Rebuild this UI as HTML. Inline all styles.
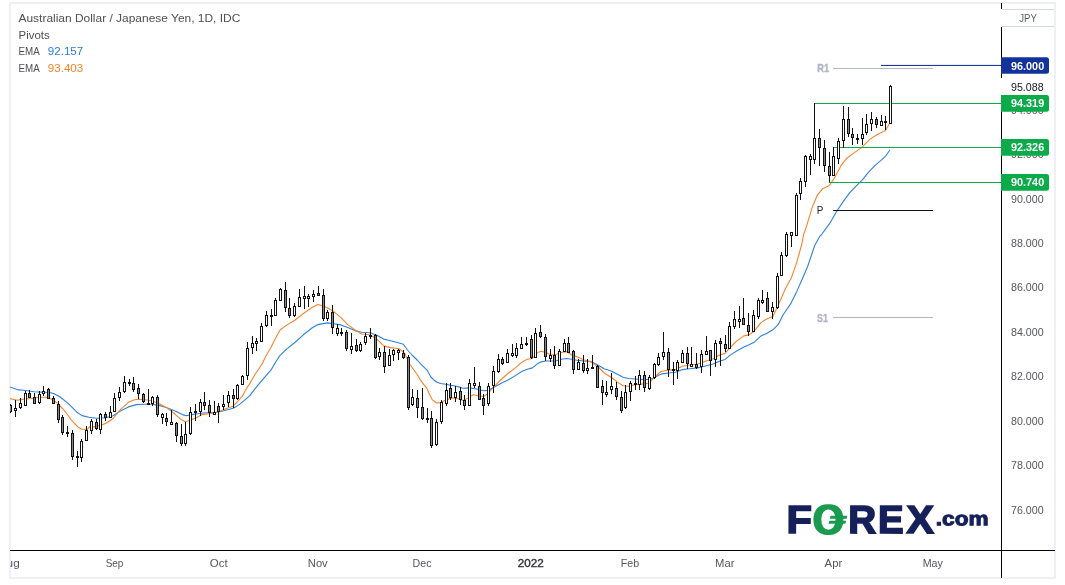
<!DOCTYPE html>
<html lang="en"><head><meta charset="utf-8"><title>AUD/JPY Daily Chart</title>
<style>
html,body{margin:0;padding:0;background:#fff;}
body{width:1065px;height:585px;overflow:hidden;font-family:"Liberation Sans", Arial, sans-serif;}
svg{display:block;position:absolute;left:0;top:0}
text{font-family:"Liberation Sans", Arial, sans-serif;}
.t{font-size:11.6px;fill:#4f4f52}
.ax{font-size:11px;fill:#55565c}
.lb{font-size:11px;font-weight:bold;fill:#fff}
</style></head><body>
<svg width="1065" height="585" viewBox="0 0 1065 585">
<rect x="10" y="3" width="1045" height="575" fill="#fff" stroke="#eef0f6" stroke-width="2"/>
<defs><clipPath id="plot"><rect x="10" y="4" width="991" height="573"/></clipPath></defs>
<g id="ema" clip-path="url(#plot)">
<polyline points="9.5,386.8 17.1,389.6 25.6,390.5 34.2,391.7 42.7,392.2 49.6,392.5 54.7,393.9 59.8,396.8 68.4,403.6 76.9,412.2 82.0,415.6 88.9,417.3 96.2,418.2 105.4,417.7 113.1,415.7 120.8,410.8 128.5,406.9 136.2,404.6 143.8,404.2 151.5,404.3 159.2,405.4 166.9,407.7 174.6,410.8 182.3,414.6 186.2,415.7 191.5,414.6 197.7,413.8 205.4,412.8 213.1,412.8 220.8,411.5 228.5,409.5 233.8,408.0 239.2,404.6 243.8,400.8 250.0,395.4 255.5,388.1 262.4,379.9 267.0,374.6 271.2,369.7 276.0,361.5 280.1,355.3 286.3,349.4 294.8,342.5 303.4,334.8 311.9,328.0 317.9,324.6 327.3,322.9 334.1,323.7 341.0,324.9 347.8,327.6 354.7,330.6 361.5,332.3 370.0,332.8 376.9,335.2 383.7,339.1 390.6,340.8 397.4,342.5 403.4,344.2 407.4,350.0 412.0,355.0 417.2,360.0 421.6,364.9 427.0,370.1 428.7,373.1 430.9,377.0 434.1,380.2 436.9,382.2 440.7,383.5 445.6,384.3 450.6,385.2 455.5,386.0 460.4,387.4 463.0,388.3 469.8,387.9 476.6,389.0 483.5,390.7 488.0,390.4 494.8,386.7 501.7,382.9 508.5,379.8 515.4,375.6 522.2,371.3 527.3,369.2 532.4,367.9 537.6,363.6 541.0,361.9 546.1,361.0 551.2,361.0 556.4,360.7 561.5,359.3 566.6,358.5 571.8,359.3 576.9,360.2 583.7,361.0 590.6,361.4 597.4,364.8 604.2,368.7 611.1,370.9 617.9,374.4 623.0,377.3 628.2,378.5 635.0,379.0 641.8,379.5 648.7,379.5 653.8,378.1 658.9,375.0 661.8,373.9 668.7,373.0 675.5,372.2 682.4,369.6 689.2,368.8 697.7,367.9 706.3,365.7 713.1,364.0 720.0,361.1 725.1,359.4 730.2,355.1 737.1,350.8 743.9,346.9 749.0,344.8 754.1,342.3 761.0,335.9 766.1,333.7 772.9,329.8 778.1,324.7 783.0,315.0 790.6,303.9 796.6,291.9 801.8,280.0 807.7,266.3 814.6,245.8 819.7,236.4 821.2,235.0 829.4,223.9 836.3,211.9 843.1,201.7 850.0,192.3 856.8,185.4 861.9,180.3 868.8,171.8 875.6,164.9 880.7,160.6 885.5,156.2 889.7,150.2" fill="none" stroke="#2f80dc" stroke-width="1.1" stroke-linejoin="round" stroke-linecap="round"/>
<polyline points="9.5,398.5 17.1,400.2 22.2,399.4 30.8,398.5 39.3,397.3 46.2,397.3 51.3,399.0 58.1,403.6 65.0,411.3 71.8,420.7 78.6,427.6 82.0,429.3 87.2,429.3 90.0,426.5 94.6,426.9 100.8,425.4 106.9,422.8 113.1,418.5 120.8,409.2 128.5,402.3 134.6,399.7 139.2,399.2 145.4,399.7 151.5,400.8 159.2,403.8 166.9,407.7 174.6,413.8 180.8,419.2 185.4,421.8 190.0,420.3 196.2,417.7 202.3,414.6 208.5,413.8 214.6,413.1 220.8,410.8 228.5,407.7 233.1,406.2 237.7,401.5 242.3,396.2 246.9,387.7 250.0,383.1 254.7,375.0 261.9,364.2 265.9,356.0 270.8,347.8 274.5,340.3 280.1,330.0 286.3,325.4 294.8,320.3 303.4,313.5 311.9,307.5 317.9,304.4 322.2,305.8 327.3,307.8 334.1,311.8 341.0,317.7 347.8,324.6 354.7,329.7 361.5,334.0 370.0,334.8 376.9,339.1 383.7,345.9 390.6,347.6 399.1,348.8 404.8,353.4 410.0,364.5 415.0,371.5 417.7,375.3 420.5,380.2 423.8,384.6 427.0,388.4 428.6,392.5 432.2,399.6 436.5,403.0 440.7,402.6 446.7,399.6 452.7,397.9 457.8,398.7 463.0,400.4 468.1,397.9 473.2,394.8 478.3,395.8 483.5,396.5 488.0,393.5 494.8,385.8 501.7,379.0 508.5,373.0 515.4,367.9 522.2,361.9 527.3,359.3 532.4,358.5 537.6,352.5 541.0,351.3 546.1,352.5 551.2,355.0 556.4,354.2 561.5,352.5 566.6,351.6 571.8,355.0 576.9,356.8 583.7,359.7 590.6,361.9 597.4,366.2 604.2,373.0 611.1,377.3 617.9,382.4 623.0,385.8 628.2,386.3 635.0,384.6 641.8,384.1 648.7,383.2 653.8,378.1 658.9,373.0 661.8,371.3 668.7,370.1 675.5,369.6 682.4,366.2 689.2,365.0 697.7,364.0 706.3,361.1 713.1,358.8 720.0,354.7 725.1,353.4 730.2,347.4 737.1,340.6 743.9,335.9 749.0,334.9 754.1,331.2 761.0,322.6 766.1,319.2 772.9,316.6 778.7,303.9 785.5,288.5 791.5,277.4 796.6,262.9 801.8,244.1 803.5,235.0 807.2,223.9 812.4,206.8 817.5,194.8 822.6,188.8 829.4,185.4 834.6,177.7 839.7,168.3 841.0,165.6 846.2,158.8 853.0,153.6 861.5,147.6 870.1,139.1 876.9,134.8 885.5,130.6 888.9,124.6" fill="none" stroke="#f5852c" stroke-width="1.1" stroke-linejoin="round" stroke-linecap="round"/>
</g>
<g id="pivots">
<rect x="833" y="68" width="100" height="1" fill="#b3b6c9"/>
<rect x="833" y="317" width="100" height="1" fill="#b3b6c9"/>
<rect x="833" y="210" width="100" height="1" fill="#111" shape-rendering="crispEdges"/>
<text x="817.3" y="72.3" textLength="11.8" lengthAdjust="spacingAndGlyphs" style="font-size:11px;font-weight:bold;fill:#b1b5c7;stroke:#b1b5c7;stroke-width:0.35px">R1</text>
<text x="817" y="321.8" textLength="10.9" lengthAdjust="spacingAndGlyphs" style="font-size:11px;font-weight:bold;fill:#b1b5c7;stroke:#b1b5c7;stroke-width:0.35px">S1</text>
<text x="816.8" y="214" textLength="6.6" lengthAdjust="spacingAndGlyphs" style="font-size:11px;fill:#222">P</text>
</g>
<g id="levels">
<rect x="881" y="64.9" width="120" height="1.1" fill="#1c3aa0"/>
<rect x="814" y="103" width="187" height="1" fill="#12a843"/>
<rect x="833" y="147" width="168" height="1" fill="#12a843"/>
<rect x="829" y="182" width="172" height="1" fill="#12a843"/>
</g>
<g id="candles" shape-rendering="crispEdges" clip-path="url(#plot)">
<rect x="10" y="404" width="1" height="9" fill="#111"/>
<rect x="9" y="405" width="3" height="7" fill="#111"/>
<rect x="10" y="406" width="1" height="5" fill="#858893"/>
<rect x="15" y="400" width="1" height="17" fill="#111"/>
<rect x="14" y="408" width="3" height="3" fill="#111"/>
<rect x="15" y="409" width="1" height="1" fill="#fff"/>
<rect x="20" y="398" width="1" height="11" fill="#111"/>
<rect x="19" y="403" width="3" height="5" fill="#111"/>
<rect x="20" y="404" width="1" height="3" fill="#fff"/>
<rect x="25" y="391" width="1" height="15" fill="#111"/>
<rect x="24" y="393" width="3" height="13" fill="#111"/>
<rect x="25" y="394" width="1" height="11" fill="#fff"/>
<rect x="29" y="390" width="1" height="8" fill="#111"/>
<rect x="28" y="393" width="3" height="5" fill="#111"/>
<rect x="29" y="394" width="1" height="3" fill="#858893"/>
<rect x="34" y="393" width="1" height="11" fill="#111"/>
<rect x="33" y="397" width="3" height="7" fill="#111"/>
<rect x="34" y="398" width="1" height="5" fill="#858893"/>
<rect x="39" y="391" width="1" height="13" fill="#111"/>
<rect x="38" y="394" width="3" height="9" fill="#111"/>
<rect x="39" y="395" width="1" height="7" fill="#fff"/>
<rect x="43" y="386" width="1" height="10" fill="#111"/>
<rect x="42" y="391" width="3" height="3" fill="#111"/>
<rect x="43" y="392" width="1" height="1" fill="#fff"/>
<rect x="48" y="388" width="1" height="11" fill="#111"/>
<rect x="47" y="389" width="3" height="10" fill="#111"/>
<rect x="48" y="390" width="1" height="8" fill="#858893"/>
<rect x="53" y="396" width="1" height="8" fill="#111"/>
<rect x="52" y="398" width="3" height="6" fill="#111"/>
<rect x="53" y="399" width="1" height="4" fill="#858893"/>
<rect x="58" y="401" width="1" height="22" fill="#111"/>
<rect x="57" y="404" width="3" height="16" fill="#111"/>
<rect x="58" y="405" width="1" height="14" fill="#858893"/>
<rect x="62" y="415" width="1" height="20" fill="#111"/>
<rect x="61" y="417" width="3" height="16" fill="#111"/>
<rect x="62" y="418" width="1" height="14" fill="#858893"/>
<rect x="67" y="426" width="1" height="11" fill="#111"/>
<rect x="66" y="432" width="3" height="2" fill="#111"/>
<rect x="72" y="430" width="1" height="30" fill="#111"/>
<rect x="71" y="433" width="3" height="24" fill="#111"/>
<rect x="72" y="434" width="1" height="22" fill="#858893"/>
<rect x="77" y="451" width="1" height="16" fill="#111"/>
<rect x="76" y="456" width="3" height="2" fill="#111"/>
<rect x="81" y="439" width="1" height="23" fill="#111"/>
<rect x="80" y="441" width="3" height="17" fill="#111"/>
<rect x="81" y="442" width="1" height="15" fill="#fff"/>
<rect x="86" y="426" width="1" height="15" fill="#111"/>
<rect x="85" y="430" width="3" height="11" fill="#111"/>
<rect x="86" y="431" width="1" height="9" fill="#fff"/>
<rect x="91" y="419" width="1" height="15" fill="#111"/>
<rect x="90" y="421" width="3" height="10" fill="#111"/>
<rect x="91" y="422" width="1" height="8" fill="#fff"/>
<rect x="96" y="419" width="1" height="11" fill="#111"/>
<rect x="95" y="422" width="3" height="7" fill="#111"/>
<rect x="96" y="423" width="1" height="5" fill="#858893"/>
<rect x="100" y="413" width="1" height="21" fill="#111"/>
<rect x="99" y="414" width="3" height="16" fill="#111"/>
<rect x="100" y="415" width="1" height="14" fill="#fff"/>
<rect x="105" y="412" width="1" height="9" fill="#111"/>
<rect x="104" y="414" width="3" height="4" fill="#111"/>
<rect x="105" y="415" width="1" height="2" fill="#858893"/>
<rect x="110" y="406" width="1" height="12" fill="#111"/>
<rect x="109" y="412" width="3" height="6" fill="#111"/>
<rect x="110" y="413" width="1" height="4" fill="#fff"/>
<rect x="114" y="393" width="1" height="19" fill="#111"/>
<rect x="113" y="398" width="3" height="14" fill="#111"/>
<rect x="114" y="399" width="1" height="12" fill="#fff"/>
<rect x="119" y="387" width="1" height="14" fill="#111"/>
<rect x="118" y="392" width="3" height="6" fill="#111"/>
<rect x="119" y="393" width="1" height="4" fill="#fff"/>
<rect x="124" y="376" width="1" height="17" fill="#111"/>
<rect x="123" y="382" width="3" height="10" fill="#111"/>
<rect x="124" y="383" width="1" height="8" fill="#fff"/>
<rect x="129" y="379" width="1" height="7" fill="#111"/>
<rect x="128" y="382" width="3" height="2" fill="#111"/>
<rect x="133" y="377" width="1" height="15" fill="#111"/>
<rect x="132" y="383" width="3" height="7" fill="#111"/>
<rect x="133" y="384" width="1" height="5" fill="#858893"/>
<rect x="138" y="384" width="1" height="15" fill="#111"/>
<rect x="137" y="388" width="3" height="6" fill="#111"/>
<rect x="138" y="389" width="1" height="4" fill="#858893"/>
<rect x="143" y="393" width="1" height="10" fill="#111"/>
<rect x="142" y="394" width="3" height="8" fill="#111"/>
<rect x="143" y="395" width="1" height="6" fill="#858893"/>
<rect x="148" y="389" width="1" height="16" fill="#111"/>
<rect x="147" y="403" width="3" height="2" fill="#111"/>
<rect x="152" y="396" width="1" height="10" fill="#111"/>
<rect x="151" y="397" width="3" height="7" fill="#111"/>
<rect x="152" y="398" width="1" height="5" fill="#fff"/>
<rect x="157" y="395" width="1" height="22" fill="#111"/>
<rect x="156" y="397" width="3" height="18" fill="#111"/>
<rect x="157" y="398" width="1" height="16" fill="#858893"/>
<rect x="162" y="413" width="1" height="11" fill="#111"/>
<rect x="161" y="414" width="3" height="4" fill="#111"/>
<rect x="162" y="415" width="1" height="2" fill="#fff"/>
<rect x="166" y="413" width="1" height="13" fill="#111"/>
<rect x="165" y="418" width="3" height="4" fill="#111"/>
<rect x="166" y="419" width="1" height="2" fill="#858893"/>
<rect x="171" y="410" width="1" height="15" fill="#111"/>
<rect x="170" y="422" width="3" height="3" fill="#111"/>
<rect x="171" y="423" width="1" height="1" fill="#fff"/>
<rect x="176" y="422" width="1" height="20" fill="#111"/>
<rect x="175" y="423" width="3" height="13" fill="#111"/>
<rect x="176" y="424" width="1" height="11" fill="#858893"/>
<rect x="181" y="424" width="1" height="22" fill="#111"/>
<rect x="180" y="436" width="3" height="8" fill="#111"/>
<rect x="181" y="437" width="1" height="6" fill="#858893"/>
<rect x="185" y="422" width="1" height="24" fill="#111"/>
<rect x="184" y="434" width="3" height="10" fill="#111"/>
<rect x="185" y="435" width="1" height="8" fill="#fff"/>
<rect x="190" y="407" width="1" height="28" fill="#111"/>
<rect x="189" y="412" width="3" height="22" fill="#111"/>
<rect x="190" y="413" width="1" height="20" fill="#fff"/>
<rect x="195" y="404" width="1" height="17" fill="#111"/>
<rect x="194" y="411" width="3" height="2" fill="#111"/>
<rect x="200" y="399" width="1" height="17" fill="#111"/>
<rect x="199" y="402" width="3" height="10" fill="#111"/>
<rect x="200" y="403" width="1" height="8" fill="#fff"/>
<rect x="204" y="392" width="1" height="18" fill="#111"/>
<rect x="203" y="402" width="3" height="4" fill="#111"/>
<rect x="204" y="403" width="1" height="2" fill="#858893"/>
<rect x="209" y="400" width="1" height="17" fill="#111"/>
<rect x="208" y="405" width="3" height="8" fill="#111"/>
<rect x="209" y="406" width="1" height="6" fill="#858893"/>
<rect x="214" y="401" width="1" height="14" fill="#111"/>
<rect x="213" y="412" width="3" height="3" fill="#111"/>
<rect x="214" y="413" width="1" height="1" fill="#fff"/>
<rect x="218" y="403" width="1" height="20" fill="#111"/>
<rect x="217" y="406" width="3" height="6" fill="#111"/>
<rect x="218" y="407" width="1" height="4" fill="#858893"/>
<rect x="223" y="395" width="1" height="15" fill="#111"/>
<rect x="222" y="404" width="3" height="3" fill="#111"/>
<rect x="223" y="405" width="1" height="1" fill="#fff"/>
<rect x="228" y="391" width="1" height="16" fill="#111"/>
<rect x="227" y="395" width="3" height="8" fill="#111"/>
<rect x="228" y="396" width="1" height="6" fill="#fff"/>
<rect x="233" y="389" width="1" height="19" fill="#111"/>
<rect x="232" y="395" width="3" height="4" fill="#111"/>
<rect x="233" y="396" width="1" height="2" fill="#858893"/>
<rect x="237" y="384" width="1" height="16" fill="#111"/>
<rect x="236" y="385" width="3" height="14" fill="#111"/>
<rect x="237" y="386" width="1" height="12" fill="#fff"/>
<rect x="242" y="375" width="1" height="10" fill="#111"/>
<rect x="241" y="376" width="3" height="9" fill="#111"/>
<rect x="242" y="377" width="1" height="7" fill="#fff"/>
<rect x="247" y="342" width="1" height="38" fill="#111"/>
<rect x="246" y="348" width="3" height="28" fill="#111"/>
<rect x="247" y="349" width="1" height="26" fill="#fff"/>
<rect x="252" y="336" width="1" height="18" fill="#111"/>
<rect x="251" y="343" width="3" height="5" fill="#111"/>
<rect x="252" y="344" width="1" height="3" fill="#fff"/>
<rect x="256" y="338" width="1" height="13" fill="#111"/>
<rect x="255" y="341" width="3" height="3" fill="#111"/>
<rect x="256" y="342" width="1" height="1" fill="#fff"/>
<rect x="261" y="323" width="1" height="19" fill="#111"/>
<rect x="260" y="326" width="3" height="16" fill="#111"/>
<rect x="261" y="327" width="1" height="14" fill="#fff"/>
<rect x="266" y="311" width="1" height="16" fill="#111"/>
<rect x="265" y="315" width="3" height="11" fill="#111"/>
<rect x="266" y="316" width="1" height="9" fill="#fff"/>
<rect x="271" y="309" width="1" height="17" fill="#111"/>
<rect x="270" y="315" width="3" height="2" fill="#111"/>
<rect x="275" y="298" width="1" height="18" fill="#111"/>
<rect x="274" y="300" width="3" height="16" fill="#111"/>
<rect x="275" y="301" width="1" height="14" fill="#fff"/>
<rect x="280" y="288" width="1" height="13" fill="#111"/>
<rect x="279" y="289" width="3" height="12" fill="#111"/>
<rect x="280" y="290" width="1" height="10" fill="#fff"/>
<rect x="285" y="282" width="1" height="30" fill="#111"/>
<rect x="284" y="290" width="3" height="18" fill="#111"/>
<rect x="285" y="291" width="1" height="16" fill="#858893"/>
<rect x="289" y="298" width="1" height="20" fill="#111"/>
<rect x="288" y="308" width="3" height="8" fill="#111"/>
<rect x="289" y="309" width="1" height="6" fill="#858893"/>
<rect x="294" y="303" width="1" height="14" fill="#111"/>
<rect x="293" y="306" width="3" height="10" fill="#111"/>
<rect x="294" y="307" width="1" height="8" fill="#fff"/>
<rect x="299" y="289" width="1" height="18" fill="#111"/>
<rect x="298" y="297" width="3" height="10" fill="#111"/>
<rect x="299" y="298" width="1" height="8" fill="#fff"/>
<rect x="304" y="286" width="1" height="23" fill="#111"/>
<rect x="303" y="296" width="3" height="3" fill="#111"/>
<rect x="304" y="297" width="1" height="1" fill="#fff"/>
<rect x="308" y="294" width="1" height="13" fill="#111"/>
<rect x="307" y="296" width="3" height="3" fill="#111"/>
<rect x="308" y="297" width="1" height="1" fill="#fff"/>
<rect x="313" y="290" width="1" height="12" fill="#111"/>
<rect x="312" y="294" width="3" height="3" fill="#111"/>
<rect x="313" y="295" width="1" height="1" fill="#fff"/>
<rect x="318" y="286" width="1" height="10" fill="#111"/>
<rect x="317" y="293" width="3" height="3" fill="#111"/>
<rect x="318" y="294" width="1" height="1" fill="#858893"/>
<rect x="323" y="289" width="1" height="32" fill="#111"/>
<rect x="322" y="295" width="3" height="24" fill="#111"/>
<rect x="323" y="296" width="1" height="22" fill="#858893"/>
<rect x="327" y="310" width="1" height="11" fill="#111"/>
<rect x="326" y="312" width="3" height="7" fill="#111"/>
<rect x="327" y="313" width="1" height="5" fill="#fff"/>
<rect x="332" y="305" width="1" height="29" fill="#111"/>
<rect x="331" y="312" width="3" height="16" fill="#111"/>
<rect x="332" y="313" width="1" height="14" fill="#858893"/>
<rect x="337" y="324" width="1" height="12" fill="#111"/>
<rect x="336" y="328" width="3" height="6" fill="#111"/>
<rect x="337" y="329" width="1" height="4" fill="#fff"/>
<rect x="341" y="328" width="1" height="8" fill="#111"/>
<rect x="340" y="332" width="3" height="2" fill="#111"/>
<rect x="346" y="330" width="1" height="21" fill="#111"/>
<rect x="345" y="332" width="3" height="17" fill="#111"/>
<rect x="346" y="333" width="1" height="15" fill="#858893"/>
<rect x="351" y="333" width="1" height="21" fill="#111"/>
<rect x="350" y="346" width="3" height="4" fill="#111"/>
<rect x="351" y="347" width="1" height="2" fill="#fff"/>
<rect x="356" y="339" width="1" height="13" fill="#111"/>
<rect x="355" y="345" width="3" height="6" fill="#111"/>
<rect x="356" y="346" width="1" height="4" fill="#858893"/>
<rect x="360" y="342" width="1" height="10" fill="#111"/>
<rect x="359" y="344" width="3" height="7" fill="#111"/>
<rect x="360" y="345" width="1" height="5" fill="#fff"/>
<rect x="365" y="333" width="1" height="12" fill="#111"/>
<rect x="364" y="336" width="3" height="7" fill="#111"/>
<rect x="365" y="337" width="1" height="5" fill="#fff"/>
<rect x="370" y="328" width="1" height="11" fill="#111"/>
<rect x="369" y="335" width="3" height="2" fill="#111"/>
<rect x="375" y="334" width="1" height="25" fill="#111"/>
<rect x="374" y="335" width="3" height="23" fill="#111"/>
<rect x="375" y="336" width="1" height="21" fill="#858893"/>
<rect x="379" y="348" width="1" height="12" fill="#111"/>
<rect x="378" y="352" width="3" height="5" fill="#111"/>
<rect x="379" y="353" width="1" height="3" fill="#fff"/>
<rect x="384" y="346" width="1" height="27" fill="#111"/>
<rect x="383" y="352" width="3" height="15" fill="#111"/>
<rect x="384" y="353" width="1" height="13" fill="#858893"/>
<rect x="389" y="349" width="1" height="17" fill="#111"/>
<rect x="388" y="355" width="3" height="11" fill="#111"/>
<rect x="389" y="356" width="1" height="9" fill="#fff"/>
<rect x="393" y="349" width="1" height="12" fill="#111"/>
<rect x="392" y="350" width="3" height="5" fill="#111"/>
<rect x="393" y="351" width="1" height="3" fill="#fff"/>
<rect x="398" y="349" width="1" height="11" fill="#111"/>
<rect x="397" y="350" width="3" height="3" fill="#111"/>
<rect x="398" y="351" width="1" height="1" fill="#fff"/>
<rect x="403" y="350" width="1" height="9" fill="#111"/>
<rect x="402" y="353" width="3" height="5" fill="#111"/>
<rect x="403" y="354" width="1" height="3" fill="#858893"/>
<rect x="408" y="355" width="1" height="55" fill="#111"/>
<rect x="407" y="357" width="3" height="51" fill="#111"/>
<rect x="408" y="358" width="1" height="49" fill="#858893"/>
<rect x="412" y="389" width="1" height="17" fill="#111"/>
<rect x="411" y="397" width="3" height="8" fill="#111"/>
<rect x="412" y="398" width="1" height="6" fill="#fff"/>
<rect x="417" y="390" width="1" height="28" fill="#111"/>
<rect x="416" y="398" width="3" height="10" fill="#111"/>
<rect x="417" y="399" width="1" height="8" fill="#858893"/>
<rect x="422" y="388" width="1" height="32" fill="#111"/>
<rect x="421" y="407" width="3" height="12" fill="#111"/>
<rect x="422" y="408" width="1" height="10" fill="#858893"/>
<rect x="427" y="408" width="1" height="15" fill="#111"/>
<rect x="426" y="418" width="3" height="2" fill="#111"/>
<rect x="431" y="411" width="1" height="37" fill="#111"/>
<rect x="430" y="418" width="3" height="28" fill="#111"/>
<rect x="431" y="419" width="1" height="26" fill="#858893"/>
<rect x="436" y="419" width="1" height="27" fill="#111"/>
<rect x="435" y="422" width="3" height="23" fill="#111"/>
<rect x="436" y="423" width="1" height="21" fill="#fff"/>
<rect x="441" y="400" width="1" height="24" fill="#111"/>
<rect x="440" y="402" width="3" height="20" fill="#111"/>
<rect x="441" y="403" width="1" height="18" fill="#fff"/>
<rect x="446" y="383" width="1" height="23" fill="#111"/>
<rect x="445" y="390" width="3" height="14" fill="#111"/>
<rect x="446" y="391" width="1" height="12" fill="#fff"/>
<rect x="450" y="383" width="1" height="17" fill="#111"/>
<rect x="449" y="388" width="3" height="10" fill="#111"/>
<rect x="450" y="389" width="1" height="8" fill="#858893"/>
<rect x="455" y="386" width="1" height="16" fill="#111"/>
<rect x="454" y="392" width="3" height="6" fill="#111"/>
<rect x="455" y="393" width="1" height="4" fill="#fff"/>
<rect x="460" y="387" width="1" height="18" fill="#111"/>
<rect x="459" y="391" width="3" height="9" fill="#111"/>
<rect x="460" y="392" width="1" height="7" fill="#858893"/>
<rect x="464" y="395" width="1" height="15" fill="#111"/>
<rect x="463" y="400" width="3" height="6" fill="#111"/>
<rect x="464" y="401" width="1" height="4" fill="#858893"/>
<rect x="469" y="379" width="1" height="27" fill="#111"/>
<rect x="468" y="383" width="3" height="23" fill="#111"/>
<rect x="469" y="384" width="1" height="21" fill="#fff"/>
<rect x="474" y="367" width="1" height="21" fill="#111"/>
<rect x="473" y="383" width="3" height="3" fill="#111"/>
<rect x="474" y="384" width="1" height="1" fill="#fff"/>
<rect x="479" y="382" width="1" height="18" fill="#111"/>
<rect x="478" y="386" width="3" height="14" fill="#111"/>
<rect x="479" y="387" width="1" height="12" fill="#858893"/>
<rect x="483" y="394" width="1" height="21" fill="#111"/>
<rect x="482" y="398" width="3" height="8" fill="#111"/>
<rect x="483" y="399" width="1" height="6" fill="#858893"/>
<rect x="488" y="383" width="1" height="23" fill="#111"/>
<rect x="487" y="386" width="3" height="18" fill="#111"/>
<rect x="488" y="387" width="1" height="16" fill="#fff"/>
<rect x="493" y="366" width="1" height="27" fill="#111"/>
<rect x="492" y="371" width="3" height="15" fill="#111"/>
<rect x="493" y="372" width="1" height="13" fill="#fff"/>
<rect x="498" y="354" width="1" height="19" fill="#111"/>
<rect x="497" y="359" width="3" height="13" fill="#111"/>
<rect x="498" y="360" width="1" height="11" fill="#fff"/>
<rect x="502" y="357" width="1" height="8" fill="#111"/>
<rect x="501" y="359" width="3" height="5" fill="#111"/>
<rect x="502" y="360" width="1" height="3" fill="#858893"/>
<rect x="507" y="349" width="1" height="14" fill="#111"/>
<rect x="506" y="353" width="3" height="10" fill="#111"/>
<rect x="507" y="354" width="1" height="8" fill="#fff"/>
<rect x="512" y="344" width="1" height="13" fill="#111"/>
<rect x="511" y="353" width="3" height="3" fill="#111"/>
<rect x="512" y="354" width="1" height="1" fill="#fff"/>
<rect x="516" y="343" width="1" height="15" fill="#111"/>
<rect x="515" y="348" width="3" height="8" fill="#111"/>
<rect x="516" y="349" width="1" height="6" fill="#fff"/>
<rect x="521" y="337" width="1" height="12" fill="#111"/>
<rect x="520" y="344" width="3" height="5" fill="#111"/>
<rect x="521" y="345" width="1" height="3" fill="#fff"/>
<rect x="526" y="337" width="1" height="9" fill="#111"/>
<rect x="525" y="343" width="3" height="2" fill="#111"/>
<rect x="531" y="335" width="1" height="24" fill="#111"/>
<rect x="530" y="339" width="3" height="19" fill="#111"/>
<rect x="531" y="340" width="1" height="17" fill="#858893"/>
<rect x="535" y="328" width="1" height="30" fill="#111"/>
<rect x="534" y="333" width="3" height="25" fill="#111"/>
<rect x="535" y="334" width="1" height="23" fill="#fff"/>
<rect x="540" y="325" width="1" height="13" fill="#111"/>
<rect x="539" y="332" width="3" height="5" fill="#111"/>
<rect x="540" y="333" width="1" height="3" fill="#858893"/>
<rect x="545" y="334" width="1" height="27" fill="#111"/>
<rect x="544" y="337" width="3" height="20" fill="#111"/>
<rect x="545" y="338" width="1" height="18" fill="#858893"/>
<rect x="550" y="349" width="1" height="13" fill="#111"/>
<rect x="549" y="355" width="3" height="4" fill="#111"/>
<rect x="550" y="356" width="1" height="2" fill="#fff"/>
<rect x="554" y="346" width="1" height="23" fill="#111"/>
<rect x="553" y="355" width="3" height="11" fill="#111"/>
<rect x="554" y="356" width="1" height="9" fill="#858893"/>
<rect x="559" y="349" width="1" height="17" fill="#111"/>
<rect x="558" y="351" width="3" height="15" fill="#111"/>
<rect x="559" y="352" width="1" height="13" fill="#fff"/>
<rect x="564" y="339" width="1" height="13" fill="#111"/>
<rect x="563" y="343" width="3" height="9" fill="#111"/>
<rect x="564" y="344" width="1" height="7" fill="#fff"/>
<rect x="568" y="337" width="1" height="16" fill="#111"/>
<rect x="567" y="343" width="3" height="10" fill="#111"/>
<rect x="568" y="344" width="1" height="8" fill="#858893"/>
<rect x="573" y="350" width="1" height="24" fill="#111"/>
<rect x="572" y="351" width="3" height="19" fill="#111"/>
<rect x="573" y="352" width="1" height="17" fill="#858893"/>
<rect x="578" y="359" width="1" height="11" fill="#111"/>
<rect x="577" y="362" width="3" height="8" fill="#111"/>
<rect x="578" y="363" width="1" height="6" fill="#fff"/>
<rect x="583" y="355" width="1" height="18" fill="#111"/>
<rect x="582" y="363" width="3" height="8" fill="#111"/>
<rect x="583" y="364" width="1" height="6" fill="#858893"/>
<rect x="587" y="359" width="1" height="15" fill="#111"/>
<rect x="586" y="368" width="3" height="3" fill="#111"/>
<rect x="587" y="369" width="1" height="1" fill="#fff"/>
<rect x="592" y="355" width="1" height="14" fill="#111"/>
<rect x="591" y="367" width="3" height="2" fill="#111"/>
<rect x="597" y="365" width="1" height="23" fill="#111"/>
<rect x="596" y="366" width="3" height="22" fill="#111"/>
<rect x="597" y="367" width="1" height="20" fill="#858893"/>
<rect x="602" y="380" width="1" height="25" fill="#111"/>
<rect x="601" y="386" width="3" height="7" fill="#111"/>
<rect x="602" y="387" width="1" height="5" fill="#858893"/>
<rect x="606" y="381" width="1" height="16" fill="#111"/>
<rect x="605" y="392" width="3" height="3" fill="#111"/>
<rect x="606" y="393" width="1" height="1" fill="#fff"/>
<rect x="611" y="373" width="1" height="21" fill="#111"/>
<rect x="610" y="386" width="3" height="4" fill="#111"/>
<rect x="611" y="387" width="1" height="2" fill="#fff"/>
<rect x="616" y="382" width="1" height="18" fill="#111"/>
<rect x="615" y="388" width="3" height="9" fill="#111"/>
<rect x="616" y="389" width="1" height="7" fill="#858893"/>
<rect x="621" y="391" width="1" height="22" fill="#111"/>
<rect x="620" y="397" width="3" height="14" fill="#111"/>
<rect x="621" y="398" width="1" height="12" fill="#858893"/>
<rect x="625" y="385" width="1" height="24" fill="#111"/>
<rect x="624" y="392" width="3" height="16" fill="#111"/>
<rect x="625" y="393" width="1" height="14" fill="#fff"/>
<rect x="630" y="381" width="1" height="20" fill="#111"/>
<rect x="629" y="383" width="3" height="9" fill="#111"/>
<rect x="630" y="384" width="1" height="7" fill="#fff"/>
<rect x="635" y="376" width="1" height="14" fill="#111"/>
<rect x="634" y="383" width="3" height="2" fill="#111"/>
<rect x="639" y="370" width="1" height="20" fill="#111"/>
<rect x="638" y="375" width="3" height="10" fill="#111"/>
<rect x="639" y="376" width="1" height="8" fill="#fff"/>
<rect x="644" y="371" width="1" height="21" fill="#111"/>
<rect x="643" y="375" width="3" height="13" fill="#111"/>
<rect x="644" y="376" width="1" height="11" fill="#858893"/>
<rect x="649" y="375" width="1" height="15" fill="#111"/>
<rect x="648" y="377" width="3" height="12" fill="#111"/>
<rect x="649" y="378" width="1" height="10" fill="#fff"/>
<rect x="654" y="363" width="1" height="16" fill="#111"/>
<rect x="653" y="364" width="3" height="14" fill="#111"/>
<rect x="654" y="365" width="1" height="12" fill="#fff"/>
<rect x="658" y="353" width="1" height="13" fill="#111"/>
<rect x="657" y="357" width="3" height="8" fill="#111"/>
<rect x="658" y="358" width="1" height="6" fill="#fff"/>
<rect x="663" y="332" width="1" height="28" fill="#111"/>
<rect x="662" y="352" width="3" height="5" fill="#111"/>
<rect x="663" y="353" width="1" height="3" fill="#fff"/>
<rect x="668" y="348" width="1" height="29" fill="#111"/>
<rect x="667" y="352" width="3" height="18" fill="#111"/>
<rect x="668" y="353" width="1" height="16" fill="#858893"/>
<rect x="673" y="362" width="1" height="23" fill="#111"/>
<rect x="672" y="369" width="3" height="2" fill="#111"/>
<rect x="677" y="360" width="1" height="19" fill="#111"/>
<rect x="676" y="362" width="3" height="9" fill="#111"/>
<rect x="677" y="363" width="1" height="7" fill="#fff"/>
<rect x="682" y="350" width="1" height="13" fill="#111"/>
<rect x="681" y="353" width="3" height="10" fill="#111"/>
<rect x="682" y="354" width="1" height="8" fill="#fff"/>
<rect x="687" y="347" width="1" height="22" fill="#111"/>
<rect x="686" y="353" width="3" height="11" fill="#111"/>
<rect x="687" y="354" width="1" height="9" fill="#858893"/>
<rect x="691" y="347" width="1" height="20" fill="#111"/>
<rect x="690" y="364" width="3" height="3" fill="#111"/>
<rect x="691" y="365" width="1" height="1" fill="#fff"/>
<rect x="696" y="353" width="1" height="16" fill="#111"/>
<rect x="695" y="364" width="3" height="4" fill="#111"/>
<rect x="696" y="365" width="1" height="2" fill="#858893"/>
<rect x="701" y="350" width="1" height="23" fill="#111"/>
<rect x="700" y="354" width="3" height="13" fill="#111"/>
<rect x="701" y="355" width="1" height="11" fill="#fff"/>
<rect x="706" y="336" width="1" height="19" fill="#111"/>
<rect x="705" y="351" width="3" height="4" fill="#111"/>
<rect x="706" y="352" width="1" height="2" fill="#fff"/>
<rect x="710" y="350" width="1" height="26" fill="#111"/>
<rect x="709" y="350" width="3" height="11" fill="#111"/>
<rect x="710" y="351" width="1" height="9" fill="#858893"/>
<rect x="715" y="340" width="1" height="27" fill="#111"/>
<rect x="714" y="343" width="3" height="17" fill="#111"/>
<rect x="715" y="344" width="1" height="15" fill="#fff"/>
<rect x="720" y="338" width="1" height="28" fill="#111"/>
<rect x="719" y="341" width="3" height="3" fill="#111"/>
<rect x="720" y="342" width="1" height="1" fill="#858893"/>
<rect x="725" y="335" width="1" height="17" fill="#111"/>
<rect x="724" y="344" width="3" height="5" fill="#111"/>
<rect x="725" y="345" width="1" height="3" fill="#858893"/>
<rect x="729" y="322" width="1" height="27" fill="#111"/>
<rect x="728" y="326" width="3" height="23" fill="#111"/>
<rect x="729" y="327" width="1" height="21" fill="#fff"/>
<rect x="734" y="311" width="1" height="18" fill="#111"/>
<rect x="733" y="319" width="3" height="8" fill="#111"/>
<rect x="734" y="320" width="1" height="6" fill="#fff"/>
<rect x="739" y="306" width="1" height="22" fill="#111"/>
<rect x="738" y="319" width="3" height="3" fill="#111"/>
<rect x="739" y="320" width="1" height="1" fill="#fff"/>
<rect x="743" y="298" width="1" height="27" fill="#111"/>
<rect x="742" y="318" width="3" height="7" fill="#111"/>
<rect x="743" y="319" width="1" height="5" fill="#858893"/>
<rect x="748" y="313" width="1" height="23" fill="#111"/>
<rect x="747" y="325" width="3" height="7" fill="#111"/>
<rect x="748" y="326" width="1" height="5" fill="#858893"/>
<rect x="753" y="310" width="1" height="22" fill="#111"/>
<rect x="752" y="315" width="3" height="17" fill="#111"/>
<rect x="753" y="316" width="1" height="15" fill="#fff"/>
<rect x="758" y="298" width="1" height="21" fill="#111"/>
<rect x="757" y="300" width="3" height="17" fill="#111"/>
<rect x="758" y="301" width="1" height="15" fill="#fff"/>
<rect x="762" y="290" width="1" height="14" fill="#111"/>
<rect x="761" y="300" width="3" height="3" fill="#111"/>
<rect x="762" y="301" width="1" height="1" fill="#fff"/>
<rect x="767" y="292" width="1" height="20" fill="#111"/>
<rect x="766" y="298" width="3" height="14" fill="#111"/>
<rect x="767" y="299" width="1" height="12" fill="#858893"/>
<rect x="772" y="302" width="1" height="17" fill="#111"/>
<rect x="771" y="307" width="3" height="5" fill="#111"/>
<rect x="772" y="308" width="1" height="3" fill="#fff"/>
<rect x="777" y="273" width="1" height="36" fill="#111"/>
<rect x="776" y="276" width="3" height="32" fill="#111"/>
<rect x="777" y="277" width="1" height="30" fill="#fff"/>
<rect x="781" y="252" width="1" height="24" fill="#111"/>
<rect x="780" y="255" width="3" height="21" fill="#111"/>
<rect x="781" y="256" width="1" height="19" fill="#fff"/>
<rect x="786" y="232" width="1" height="25" fill="#111"/>
<rect x="785" y="234" width="3" height="22" fill="#111"/>
<rect x="786" y="235" width="1" height="20" fill="#fff"/>
<rect x="791" y="232" width="1" height="15" fill="#111"/>
<rect x="790" y="232" width="3" height="4" fill="#111"/>
<rect x="791" y="233" width="1" height="2" fill="#fff"/>
<rect x="796" y="193" width="1" height="43" fill="#111"/>
<rect x="795" y="195" width="3" height="41" fill="#111"/>
<rect x="796" y="196" width="1" height="39" fill="#fff"/>
<rect x="800" y="178" width="1" height="22" fill="#111"/>
<rect x="799" y="181" width="3" height="13" fill="#111"/>
<rect x="800" y="182" width="1" height="11" fill="#fff"/>
<rect x="805" y="155" width="1" height="32" fill="#111"/>
<rect x="804" y="156" width="3" height="26" fill="#111"/>
<rect x="805" y="157" width="1" height="24" fill="#fff"/>
<rect x="810" y="154" width="1" height="21" fill="#111"/>
<rect x="809" y="156" width="3" height="4" fill="#111"/>
<rect x="810" y="157" width="1" height="2" fill="#fff"/>
<rect x="814" y="103" width="1" height="61" fill="#111"/>
<rect x="813" y="138" width="3" height="22" fill="#111"/>
<rect x="814" y="139" width="1" height="20" fill="#fff"/>
<rect x="819" y="129" width="1" height="37" fill="#111"/>
<rect x="818" y="138" width="3" height="10" fill="#111"/>
<rect x="819" y="139" width="1" height="8" fill="#858893"/>
<rect x="824" y="140" width="1" height="32" fill="#111"/>
<rect x="823" y="148" width="3" height="18" fill="#111"/>
<rect x="824" y="149" width="1" height="16" fill="#858893"/>
<rect x="829" y="152" width="1" height="30" fill="#111"/>
<rect x="828" y="166" width="3" height="10" fill="#111"/>
<rect x="829" y="167" width="1" height="8" fill="#858893"/>
<rect x="833" y="147" width="1" height="29" fill="#111"/>
<rect x="832" y="156" width="3" height="20" fill="#111"/>
<rect x="833" y="157" width="1" height="18" fill="#fff"/>
<rect x="838" y="138" width="1" height="26" fill="#111"/>
<rect x="837" y="141" width="3" height="18" fill="#111"/>
<rect x="838" y="142" width="1" height="16" fill="#fff"/>
<rect x="843" y="106" width="1" height="42" fill="#111"/>
<rect x="842" y="119" width="3" height="22" fill="#111"/>
<rect x="843" y="120" width="1" height="20" fill="#fff"/>
<rect x="848" y="107" width="1" height="30" fill="#111"/>
<rect x="847" y="119" width="3" height="15" fill="#111"/>
<rect x="848" y="120" width="1" height="13" fill="#858893"/>
<rect x="852" y="128" width="1" height="17" fill="#111"/>
<rect x="851" y="134" width="3" height="4" fill="#111"/>
<rect x="852" y="135" width="1" height="2" fill="#858893"/>
<rect x="857" y="134" width="1" height="10" fill="#111"/>
<rect x="856" y="138" width="3" height="2" fill="#111"/>
<rect x="862" y="118" width="1" height="27" fill="#111"/>
<rect x="861" y="134" width="3" height="5" fill="#111"/>
<rect x="862" y="135" width="1" height="3" fill="#fff"/>
<rect x="866" y="114" width="1" height="21" fill="#111"/>
<rect x="865" y="124" width="3" height="9" fill="#111"/>
<rect x="866" y="125" width="1" height="7" fill="#fff"/>
<rect x="871" y="112" width="1" height="19" fill="#111"/>
<rect x="870" y="119" width="3" height="5" fill="#111"/>
<rect x="871" y="120" width="1" height="3" fill="#fff"/>
<rect x="876" y="117" width="1" height="11" fill="#111"/>
<rect x="875" y="119" width="3" height="6" fill="#111"/>
<rect x="876" y="120" width="1" height="4" fill="#858893"/>
<rect x="881" y="115" width="1" height="11" fill="#111"/>
<rect x="880" y="121" width="3" height="5" fill="#111"/>
<rect x="881" y="122" width="1" height="3" fill="#fff"/>
<rect x="885" y="116" width="1" height="14" fill="#111"/>
<rect x="884" y="121" width="3" height="2" fill="#111"/>
<rect x="890" y="85" width="1" height="39" fill="#111"/>
<rect x="889" y="86" width="3" height="38" fill="#111"/>
<rect x="890" y="87" width="1" height="36" fill="#fff"/>
</g>
<g id="axes" shape-rendering="crispEdges">
<rect x="1001" y="3" width="1" height="575" fill="#000"/>
<rect x="10" y="550" width="1045" height="1" fill="#000"/>
<rect x="1001" y="9" width="53" height="18" fill="#fff"/>
<rect x="1002" y="9" width="52" height="1" fill="#d3d6e4"/>
<rect x="1002" y="26" width="52" height="1" fill="#d3d6e4"/>
</g>
<text x="1019.2" y="22" textLength="17.6" lengthAdjust="spacingAndGlyphs" style="font-size:11px;fill:#5c5c60">JPY</text>
<text class="ax" x="1011" y="513.9" textLength="32.6" lengthAdjust="spacingAndGlyphs">76.000</text>
<text class="ax" x="1011" y="468.8" textLength="32.6" lengthAdjust="spacingAndGlyphs">78.000</text>
<text class="ax" x="1011" y="425.0" textLength="32.6" lengthAdjust="spacingAndGlyphs">80.000</text>
<text class="ax" x="1011" y="380.0" textLength="32.6" lengthAdjust="spacingAndGlyphs">82.000</text>
<text class="ax" x="1011" y="336.2" textLength="32.6" lengthAdjust="spacingAndGlyphs">84.000</text>
<text class="ax" x="1011" y="290.9" textLength="32.6" lengthAdjust="spacingAndGlyphs">86.000</text>
<text class="ax" x="1011" y="246.9" textLength="32.6" lengthAdjust="spacingAndGlyphs">88.000</text>
<text class="ax" x="1011" y="203.0" textLength="32.6" lengthAdjust="spacingAndGlyphs">90.000</text>
<text class="ax" x="1011" y="158.1" textLength="32.6" lengthAdjust="spacingAndGlyphs">92.000</text>
<text class="ax" x="1011" y="114.0" textLength="32.6" lengthAdjust="spacingAndGlyphs">94.000</text>
<rect x="1001" y="78" width="53" height="17.5" fill="#fff"/>
<text x="1011" y="91" textLength="32.6" lengthAdjust="spacingAndGlyphs" style="font-size:11px;fill:#15171c">95.088</text>
<path d="M1001,57.2H1046.5Q1049,57.2 1049,59.7V71.30000000000001Q1049,73.80000000000001 1046.5,73.80000000000001H1001Z" fill="#14329c"/>
<text class="lb" x="1011" y="69.5" textLength="33.2" lengthAdjust="spacingAndGlyphs">96.000</text>
<path d="M1001,95.10000000000001H1046.5Q1049,95.10000000000001 1049,97.60000000000001V109.20000000000002Q1049,111.70000000000002 1046.5,111.70000000000002H1001Z" fill="#0cab49"/>
<text class="lb" x="1011" y="107.4" textLength="33.2" lengthAdjust="spacingAndGlyphs">94.319</text>
<path d="M1001,139.1H1046.5Q1049,139.1 1049,141.6V153.2Q1049,155.7 1046.5,155.7H1001Z" fill="#0cab49"/>
<text class="lb" x="1011" y="151.4" textLength="33.2" lengthAdjust="spacingAndGlyphs">92.326</text>
<path d="M1001,174.1H1046.5Q1049,174.1 1049,176.6V188.2Q1049,190.7 1046.5,190.7H1001Z" fill="#0cab49"/>
<text class="lb" x="1011" y="186.4" textLength="33.2" lengthAdjust="spacingAndGlyphs">90.740</text>
<text clip-path="url(#plot)" x="-1.3" y="567" textLength="21.0" lengthAdjust="spacingAndGlyphs" style="font-size:11px;fill:#55565c">Aug</text>
<text x="105.7" y="567" textLength="17.7" lengthAdjust="spacingAndGlyphs" style="font-size:11px;fill:#55565c">Sep</text>
<text x="209.8" y="567" textLength="17.9" lengthAdjust="spacingAndGlyphs" style="font-size:11px;fill:#55565c">Oct</text>
<text x="307.8" y="567" textLength="19.9" lengthAdjust="spacingAndGlyphs" style="font-size:11px;fill:#55565c">Nov</text>
<text x="412.6" y="567" textLength="18.9" lengthAdjust="spacingAndGlyphs" style="font-size:11px;fill:#55565c">Dec</text>
<text x="517.8" y="567" textLength="25.9" lengthAdjust="spacingAndGlyphs" style="font-size:11px;fill:#303136;stroke:#303136;stroke-width:0.35px">2022</text>
<text x="620.8" y="567" textLength="18.4" lengthAdjust="spacingAndGlyphs" style="font-size:11px;fill:#55565c">Feb</text>
<text x="715.0" y="567" textLength="19.4" lengthAdjust="spacingAndGlyphs" style="font-size:11px;fill:#55565c">Mar</text>
<text x="824.6" y="567" textLength="17.6" lengthAdjust="spacingAndGlyphs" style="font-size:11px;fill:#55565c">Apr</text>
<text x="922.7" y="567" textLength="20.2" lengthAdjust="spacingAndGlyphs" style="font-size:11px;fill:#55565c">May</text>
<text class="t" x="18.5" y="21.7" textLength="221.8" lengthAdjust="spacingAndGlyphs">Australian Dollar / Japanese Yen, 1D, IDC</text>
<text class="t" x="18.5" y="38.6" textLength="31.3" lengthAdjust="spacingAndGlyphs">Pivots</text>
<text class="t" x="18.5" y="55.4" textLength="21.2" lengthAdjust="spacingAndGlyphs">EMA</text><text x="47.8" y="55.4" style="font-size:11.6px;fill:#2a7bdc" textLength="35.4" lengthAdjust="spacingAndGlyphs">92.157</text>
<text class="t" x="18.5" y="72.3" textLength="21.2" lengthAdjust="spacingAndGlyphs">EMA</text><text x="47.8" y="72.3" style="font-size:11.6px;fill:#f5832a" textLength="35.4" lengthAdjust="spacingAndGlyphs">93.403</text>
<defs><filter id="thick" x="-10%" y="-10%" width="120%" height="120%"><feMorphology operator="dilate" radius="1 0"/></filter></defs>
<g id="logo">
<text transform="translate(786.47,533.05) rotate(0.15) scale(0.4159,0.3924)" style="font-size:100px;font-weight:bold;fill:#15205b;stroke:#15205b;stroke-width:4.21px;">F</text>
<g filter="url(#thick)"><text transform="translate(812.65,534.38) rotate(0.15) scale(0.4030,0.4336)" style="font-size:100px;font-weight:bold;fill:#1a9a50;">O</text></g>
<text transform="translate(848.37,533.05) rotate(0.15) scale(0.3859,0.3924)" style="font-size:100px;font-weight:bold;fill:#15205b;stroke:#15205b;stroke-width:4.37px;">R</text>
<text transform="translate(877.99,533.05) rotate(0.15) scale(0.3832,0.3924)" style="font-size:100px;font-weight:bold;fill:#15205b;stroke:#15205b;stroke-width:4.38px;">E</text>
<text transform="translate(906.39,533.05) rotate(0.15) scale(0.4096,0.3924)" style="font-size:100px;font-weight:bold;fill:#15205b;stroke:#15205b;stroke-width:4.24px;">X</text>
<polygon points="830.6,515.8 847.3,515.8 846.6,518.7 829.8,518.7" fill="#1a9a50"/>
<polygon points="829.3,520.8 846.1,520.8 845.4,523.8 828.5,523.8" fill="#1a9a50"/>
<text transform="translate(935.82,525.15) rotate(0.15) scale(0.2260,0.1952)" style="font-size:100px;font-weight:bold;fill:#15205b;stroke:#15205b;stroke-width:5.22px">.com</text>
</g>
</svg></body></html>
